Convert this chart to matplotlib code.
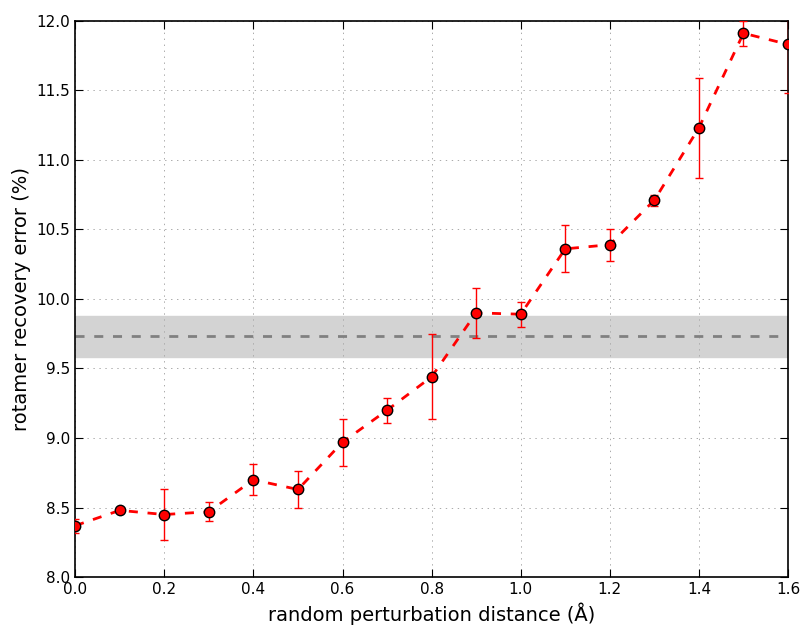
import numpy as np
from matplotlib import pyplot as plt

plt.rcParams['lines.scale_dashes'] = False

# perturbation distance (Angstrom) vs rotamer recovery error
distance = [0.0, 0.1, 0.2, 0.3, 0.4, 0.5, 0.6, 0.7, 0.8,
            0.9, 1.0, 1.1, 1.2, 1.3, 1.4, 1.5, 1.6]
error_mean = [8.37, 8.48, 8.45, 8.47, 8.70, 8.63, 8.97, 9.20, 9.44,
              9.90, 9.89, 10.36, 10.39, 10.71, 11.23, 11.91, 11.83]
error_std = [0.05, 0.01, 0.18, 0.07, 0.11, 0.135, 0.17, 0.09, 0.305,
             0.18, 0.09, 0.17, 0.115, 0.04, 0.36, 0.09, 0.35]

# reference (unperturbed) level with its spread
ref_mean = 9.73
ref_std = 0.15

fig = plt.figure(figsize=(8, 6.28), dpi=100)
ax = fig.add_axes([0.094, 0.081, 0.891, 0.886])

ax.axhspan(ref_mean - ref_std, ref_mean + ref_std, color='lightgray', zorder=0)
ax.axhline(ref_mean, color='gray', linestyle=(0, (6.5, 7)), linewidth=2, zorder=1)

ax.errorbar(distance, error_mean, yerr=error_std, color='red', ecolor='red',
            linestyle=(0, (6.5, 7)), linewidth=2, elinewidth=1, capsize=3,
            marker='o', markersize=7.5, markerfacecolor='red',
            markeredgecolor='black', markeredgewidth=1, zorder=3)

ax.set_xlim(0, 1.6)
ax.set_ylim(8.0, 12.0)
ax.set_xticks(np.arange(0, 1.61, 0.2))
ax.set_yticks(np.arange(8.0, 12.01, 0.5))
ax.xaxis.set_major_formatter(plt.FormatStrFormatter('%.1f'))
ax.yaxis.set_major_formatter(plt.FormatStrFormatter('%.1f'))

ax.grid(True, color='#aaaaaa', linestyle=(0, (1, 3.3)), linewidth=0.7, zorder=0.5)
ax.set_axisbelow(True)
ax.tick_params(direction='in', top=True, right=True, length=6, labelsize=11)
for s in ax.spines.values():
    s.set_linewidth(1.2)

ax.set_xlabel('random perturbation distance (Å)', fontsize=14)
ax.set_ylabel('rotamer recovery error (%)', fontsize=14)

plt.savefig('out.png', dpi=100)
